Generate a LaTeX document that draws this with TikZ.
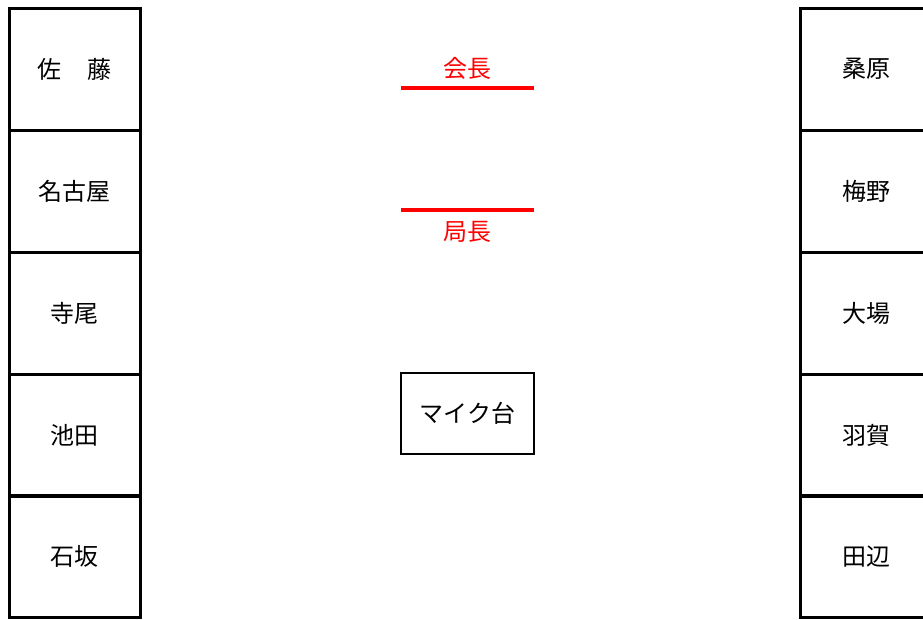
\documentclass[tikz,border=0pt]{standalone}
\usepackage{fontspec}
\setmainfont{Noto Sans CJK JP}

\begin{document}
\begin{tikzpicture}[x=1pt,y=-1pt,
		seat/.style={draw,line width=3pt,minimum width=131pt,minimum height=122pt,inner sep=0pt,font=\fontsize{24}{24}\selectfont},
		bar/.style={fill=red,minimum width=133pt,minimum height=4.5pt,inner sep=0pt,outer sep=0pt}]
		\useasboundingbox (0,0) rectangle (923,619);
		% left row
		\node[seat] (sato) at (74.5,69) {佐\hspace{1.1em}藤};
		\node[seat] (nagoya) at (74.5,191) {名古屋};
		\node[seat] (terao) at (74.5,313) {寺尾};
		\node[seat] (ikeda) at (74.5,435) {池田};
		\node[seat] (ishizaka) at (74.5,556.5) {石坂};
		% right row
		\node[seat] (kuwahara) at (866,69) {桑原};
		\node[seat] (umeno) at (866,191) {梅野};
		\node[seat] (oba) at (866,313) {大場};
		\node[seat] (haga) at (866,435) {羽賀};
		\node[seat] (tanabe) at (866,556.5) {田辺};
		% front
		\node[bar,label={[red,font=\fontsize{24}{24}\selectfont,label distance=3pt]above:会長}] (kaicho) at (467.5,88) {};
		\node[bar,label={[red,font=\fontsize{24}{24}\selectfont,label distance=6pt]below:局長}] (kyokucho) at (467.5,210) {};
		\node[draw,line width=2.5pt,minimum width=133pt,minimum height=81pt,inner sep=0pt,font=\fontsize{24}{24}\selectfont] (mic) at (467.5,413.5) {マイク台};
	\end{tikzpicture}
\end{document}
